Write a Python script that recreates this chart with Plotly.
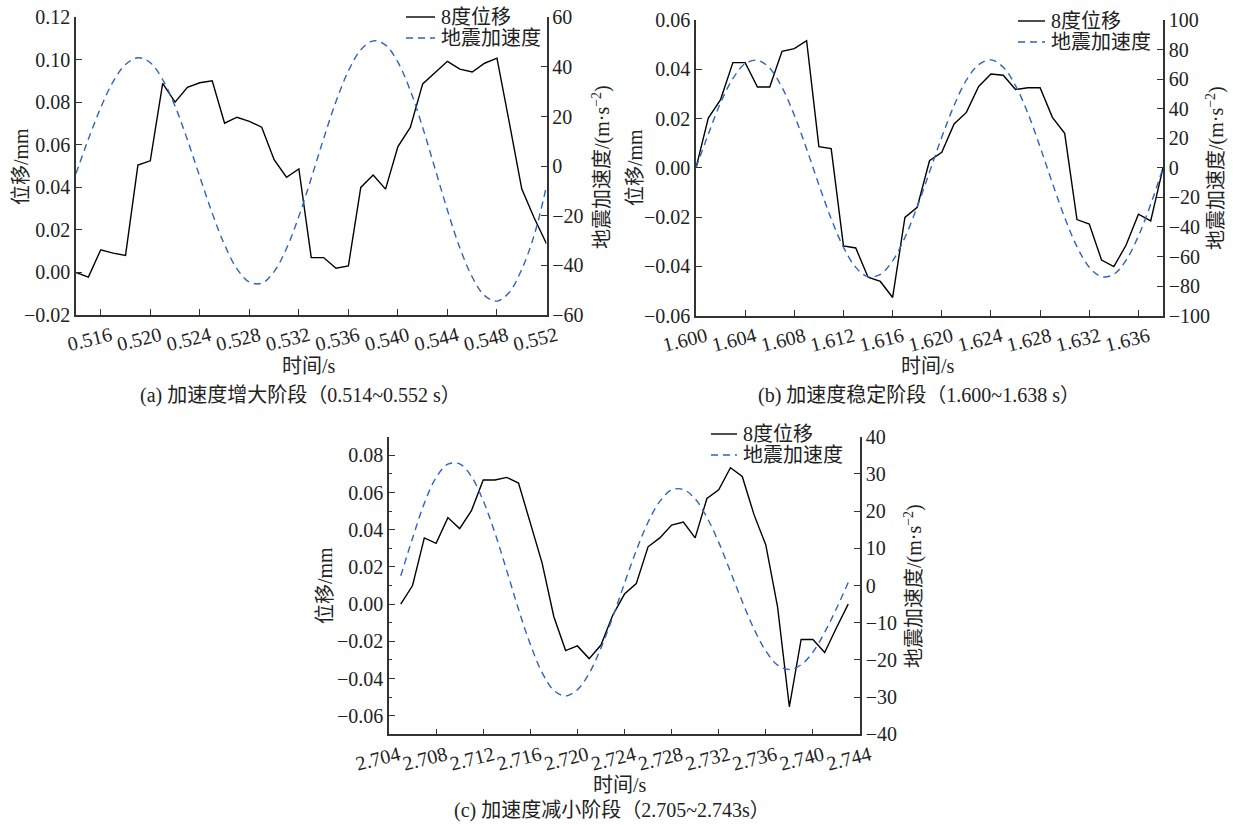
import plotly.graph_objects as go

# ---------------- data ----------------
t_a = [0.514, 0.515, 0.516, 0.517, 0.518, 0.519, 0.520, 0.521, 0.522, 0.523,
       0.524, 0.525, 0.526, 0.527, 0.528, 0.529, 0.530, 0.531, 0.532, 0.533,
       0.534, 0.535, 0.536, 0.537, 0.538, 0.539, 0.540, 0.541, 0.542, 0.543,
       0.544, 0.545, 0.546, 0.547, 0.548, 0.549, 0.550, 0.551, 0.552]
disp_a = [0.0000, -0.0022, 0.0107, 0.0091, 0.0080, 0.0505, 0.0525, 0.0889, 0.0801, 0.0871,
          0.0892, 0.0901, 0.0702, 0.0730, 0.0711, 0.0683, 0.0530, 0.0448, 0.0487, 0.0070,
          0.0070, 0.0020, 0.0031, 0.0400, 0.0458, 0.0392, 0.0592, 0.0682, 0.0887, 0.0942,
          0.0993, 0.0956, 0.0943, 0.0984, 0.1008, 0.0703, 0.0393, 0.0257, 0.0135]
acc_a = [-3.0, 10.9, 23.6, 34.1, 41.0, 43.7, 41.7, 34.9, 24.2, 10.6,
         -4.3, -18.9, -31.7, -41.4, -46.7, -47.2, -42.5, -33.2, -20.2, -4.9,
         11.1, 26.1, 38.4, 46.9, 50.5, 48.8, 41.9, 30.5, 15.6, -1.0,
         -17.8, -32.9, -44.7, -52.2, -54.4, -50.8, -41.6, -27.9, -8.0]

t_b = [1.600, 1.601, 1.602, 1.603, 1.604, 1.605, 1.606, 1.607, 1.608, 1.609,
       1.610, 1.611, 1.612, 1.613, 1.614, 1.615, 1.616, 1.617, 1.618, 1.619,
       1.620, 1.621, 1.622, 1.623, 1.624, 1.625, 1.626, 1.627, 1.628, 1.629,
       1.630, 1.631, 1.632, 1.633, 1.634, 1.635, 1.636, 1.637, 1.638]
disp_b = [0.0000, 0.0202, 0.0277, 0.0427, 0.0427, 0.0328, 0.0328, 0.0473, 0.0484, 0.0516,
          0.0086, 0.0078, -0.0317, -0.0325, -0.0444, -0.0461, -0.0526, -0.0201, -0.0160, 0.0029,
          0.0063, 0.0178, 0.0225, 0.0330, 0.0381, 0.0376, 0.0318, 0.0325, 0.0325, 0.0205,
          0.0140, -0.0210, -0.0228, -0.0374, -0.0401, -0.0313, -0.0188, -0.0215, 0.0000]
acc_b = [0.0, 22.7, 44.0, 60.4, 70.5, 72.8, 67.3, 54.4, 35.6, 12.8,
         -11.4, -34.4, -53.7, -67.3, -73.6, -72.1, -62.9, -47.1, -26.4, -2.9,
         20.8, 42.2, 59.3, 69.8, 73.0, 68.1, 55.6, 37.0, 14.1, -10.3,
         -33.6, -53.3, -67.2, -73.6, -72.0, -62.4, -46.1, -24.6, 0.0]

t_c = [2.705, 2.706, 2.707, 2.708, 2.709, 2.710, 2.711, 2.712, 2.713, 2.714,
       2.715, 2.716, 2.717, 2.718, 2.719, 2.720, 2.721, 2.722, 2.723, 2.724,
       2.725, 2.726, 2.727, 2.728, 2.729, 2.730, 2.731, 2.732, 2.733, 2.734,
       2.735, 2.736, 2.737, 2.738, 2.739, 2.740, 2.741, 2.742, 2.743]
disp_c = [0.0000, 0.0100, 0.0356, 0.0327, 0.0465, 0.0406, 0.0502, 0.0667, 0.0667, 0.0681,
          0.0651, 0.0440, 0.0222, -0.0068, -0.0250, -0.0225, -0.0293, -0.0220, -0.0060, 0.0054,
          0.0110, 0.0308, 0.0356, 0.0425, 0.0441, 0.0356, 0.0568, 0.0615, 0.0733, 0.0686,
          0.0481, 0.0318, -0.0015, -0.0552, -0.0190, -0.0190, -0.0260, -0.0127, 0.0000]
acc_c = [2.6, 12.7, 22.1, 29.0, 32.6, 32.7, 29.3, 22.8, 14.1, 4.0,
         -6.4, -15.8, -23.4, -28.2, -29.7, -28.0, -23.6, -16.8, -8.5, 0.6,
         9.4, 17.0, 22.6, 25.7, 25.8, 23.3, 18.3, 11.6, 3.7, -4.3,
         -11.7, -17.6, -21.4, -22.6, -21.3, -17.9, -12.6, -6.2, 0.8]

# tick values
xt_a = [0.516, 0.520, 0.524, 0.528, 0.532, 0.536, 0.540, 0.544, 0.548, 0.552]
xt_b = [1.600, 1.604, 1.608, 1.612, 1.616, 1.620, 1.624, 1.628, 1.632, 1.636]
xt_c = [2.704, 2.708, 2.712, 2.716, 2.720, 2.724, 2.728, 2.732, 2.736, 2.740, 2.744]
yl_a = [-0.02, 0.00, 0.02, 0.04, 0.06, 0.08, 0.10, 0.12]
yr_a = [-60, -40, -20, 0, 20, 40, 60]
yl_b = [-0.06, -0.04, -0.02, 0.00, 0.02, 0.04, 0.06]
yr_b = [-100, -80, -60, -40, -20, 0, 20, 40, 60, 80, 100]
yl_c = [-0.06, -0.04, -0.02, 0.00, 0.02, 0.04, 0.06, 0.08]
yr_c = [-40, -30, -20, -10, 0, 10, 20, 30, 40]

name_disp = "8度位移"
name_acc = "地震加速度"
title_left = "位移/mm"
title_right = "地震加速度/(m·s<sup>−2</sup>)"
title_x = "时间/s"
captions = ["(a) 加速度增大阶段（0.514~0.552 s）",
            "(b) 加速度稳定阶段（1.600~1.638 s）",
            "(c) 加速度减小阶段（2.705~2.743s）"]

# ---------------- style ----------------
W, H = 1234, 825
FONT = "'Liberation Serif', 'Times New Roman', 'Noto Sans CJK SC', serif"
FS = 20
BLUE = "#2F63C0"
AX = "#333333"
TXT = "#222222"
DASH = "7px,5px"

fig = go.Figure()

panels = [
    dict(t=t_a, d=disp_a, a=acc_a, xa="x", yl="y", yr="y2"),
    dict(t=t_b, d=disp_b, a=acc_b, xa="x2", yl="y3", yr="y4"),
    dict(t=t_c, d=disp_c, a=acc_c, xa="x3", yl="y5", yr="y6"),
]
for p in panels:
    fig.add_trace(go.Scatter(x=p["t"], y=p["d"], mode="lines", name=name_disp,
                             line=dict(color="black", width=1.4), showlegend=False,
                             xaxis=p["xa"], yaxis=p["yl"]))
    fig.add_trace(go.Scatter(x=p["t"], y=p["a"], mode="lines", name=name_acc,
                             line=dict(color=BLUE, width=1.4, dash=DASH,
                                       shape="spline", smoothing=1),
                             showlegend=False, xaxis=p["xa"], yaxis=p["yr"]))

common = dict(showline=True, linecolor=AX, linewidth=1.5, ticks="inside",
              ticklen=6, tickwidth=1.3, tickcolor=AX, showgrid=False,
              zeroline=False, automargin=False,
              tickfont=dict(family=FONT, size=FS, color=TXT))


def px_x(v):
    return v / W


def px_y(v):
    return 1 - v / H


# plot-area boxes in pixels: (left, right, top, bottom)
box_a = (76, 546.5, 17.3, 315)
box_b = (696, 1163, 20, 315.7)
box_c = (389, 860, 436.7, 734.3)


def xdom(b):
    return [px_x(b[0]), px_x(b[1])]


def ydom(b):
    return [px_y(b[3]), px_y(b[2])]


xcommon = dict(common, tickformat=".3f", tickangle=-14, ticklabelshift=10,
               tickmode="array")

fig.update_layout(
    xaxis=dict(xcommon, domain=xdom(box_a), range=[0.514, 0.552], tickvals=xt_a, anchor="y"),
    yaxis=dict(common, domain=ydom(box_a), range=[-0.02, 0.12], tickvals=yl_a,
               tickformat=".2f", anchor="x"),
    yaxis2=dict(common, range=[-60, 60], tickvals=yr_a, overlaying="y", side="right",
                anchor="x"),
    xaxis2=dict(xcommon, domain=xdom(box_b), range=[1.600, 1.638], tickvals=xt_b, anchor="y3"),
    yaxis3=dict(common, domain=ydom(box_b), range=[-0.06, 0.06], tickvals=yl_b,
                tickformat=".2f", anchor="x2"),
    yaxis4=dict(common, range=[-100, 100], tickvals=yr_b, overlaying="y3", side="right",
                anchor="x2"),
    xaxis3=dict(xcommon, domain=xdom(box_c), range=[2.704, 2.744], tickvals=xt_c, anchor="y5"),
    yaxis5=dict(common, domain=ydom(box_c), range=[-0.07, 0.09], tickvals=yl_c,
                tickformat=".2f", anchor="x3",
                minor=dict(dtick=0.01, tick0=0, ticks="inside", ticklen=3,
                           tickcolor=AX, tickwidth=1.2)),
    yaxis6=dict(common, range=[-40, 40], tickvals=yr_c, overlaying="y5", side="right",
                anchor="x3"),
)

annots = []
shapes = []


def add_text(text, x, y, angle=0, anchor="center"):
    annots.append(dict(text=text, x=px_x(x), y=px_y(y), xref="paper", yref="paper",
                       showarrow=False, textangle=angle, xanchor=anchor,
                       yanchor="middle",
                       font=dict(family=FONT, size=FS, color=TXT)))


def add_legend(x0, x1, y_solid, y_dash):
    shapes.append(dict(type="line", xref="paper", yref="paper",
                       x0=px_x(x0), x1=px_x(x1), y0=px_y(y_solid), y1=px_y(y_solid),
                       line=dict(color="black", width=1.4)))
    shapes.append(dict(type="line", xref="paper", yref="paper",
                       x0=px_x(x0), x1=px_x(x1), y0=px_y(y_dash), y1=px_y(y_dash),
                       line=dict(color=BLUE, width=1.4, dash=DASH)))
    add_text(name_disp, x1 + 4, y_solid, anchor="left")
    add_text(name_acc, x1 + 4, y_dash, anchor="left")


# (a)
add_text(title_left, 21, 166, -90)
add_text(title_right, 602, 167, -90)
add_text(title_x, 309, 366)
add_text(captions[0], 300, 395)
add_legend(406, 435, 17, 38)

# (b)
add_text(title_left, 635, 168, -90)
add_text(title_right, 1216, 168, -90)
add_text(title_x, 928, 366)
add_text(captions[1], 919, 395)
add_legend(1018, 1045, 21, 42)

# (c)
add_text(title_left, 325, 586, -90)
add_text(title_right, 913, 586, -90)
add_text(title_x, 620, 785)
add_text(captions[2], 612, 810)
add_legend(711, 737, 434, 455)

fig.update_layout(annotations=annots, shapes=shapes, width=W, height=H,
                  margin=dict(l=0, r=0, t=0, b=0, autoexpand=False), showlegend=False,
                  paper_bgcolor="white", plot_bgcolor="white",
                  font=dict(family=FONT, size=FS, color=TXT))

fig.write_html("out.html")
